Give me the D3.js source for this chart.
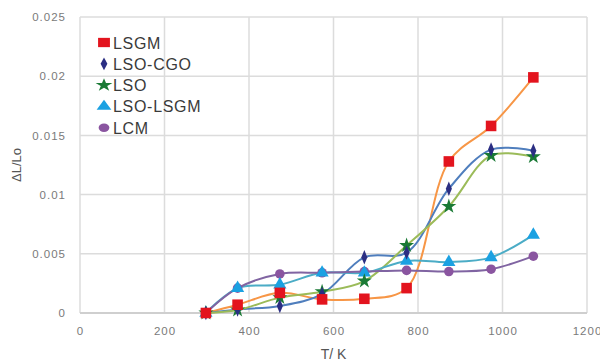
<!DOCTYPE html>
<html><head><meta charset="utf-8">
<script src="https://cdn.jsdelivr.net/npm/d3@7"></script>
<style>body{margin:0;background:#fff}svg{display:block}</style>
</head><body><svg id="c" width="600" height="362"></svg>
<script>
const temps = [298, 373, 473, 573, 673, 773, 873, 973, 1073];
const seriesNames = ["LSGM", "LSO-CGO", "LSO", "LSO-LSGM", "LCM"];
const lsgm    = [0, 0.0007, 0.0017, 0.00115, 0.0012, 0.0021, 0.0128, 0.0158, 0.0199];
const lsoCgo  = [0, 0.0003, 0.0006, 0.0016, 0.0047, 0.0051, 0.0105, 0.0138, 0.0137];
const lso     = [0, 0.00025, 0.0013, 0.0018, 0.0027, 0.0057, 0.0090, 0.0133, 0.0132];
const lsoLsgm = [0, 0.0021, 0.0024, 0.0034, 0.0034, 0.0044, 0.0043, 0.0047, 0.0066];
const lcm     = [0, 0.0021, 0.0033, 0.0034, 0.0035, 0.0036, 0.0035, 0.0037, 0.0048];
const xTicks = [0, 200, 400, 600, 800, 1000, 1200];
const yTicks = [0, 0.005, 0.01, 0.015, 0.02, 0.025];

const styles = [
  {line:"#F79646", fill:"#E3141E", sym:d3.symbolSquare, size:112, sx:1, sy:1},
  {line:"#4F7EBD", fill:"#2B2E83", sym:d3.symbolDiamond, size:50, sx:0.8, sy:1.1},
  {line:"#9BBB59", fill:"#1A7A35", sym:d3.symbolStar, size:70, sx:1, sy:1},
  {line:"#4BACC6", fill:"#1BA1E2", sym:d3.symbolTriangle, size:75, sx:1, sy:1},
  {line:"#8064A2", fill:"#8A55A0", sym:d3.symbolCircle, size:72, sx:1, sy:1}
];
const data = [lsgm, lsoCgo, lso, lsoLsgm, lcm];

const svg = d3.select("#c");
const L = 80, R = 587, T = 17, B = 313;
const x = d3.scaleLinear().domain([0,1200]).range([L,R]);
const y = d3.scaleLinear().domain([0,0.025]).range([B,T]);
const font = "Liberation Sans, Arial, sans-serif";

// gridlines
const g = svg.append("g");
g.selectAll(".vx").data(xTicks).join("line")
  .attr("x1", d=>x(d)).attr("x2", d=>x(d)).attr("y1", T).attr("y2", B)
  .attr("stroke", "#DCDCDC").attr("stroke-width", 1.5);
g.selectAll(".hy").data(yTicks).join("line")
  .attr("x1", L).attr("x2", R).attr("y1", d=>y(d)).attr("y2", d=>y(d))
  .attr("stroke", d=> d===0 ? "#CFCFCF" : "#DCDCDC").attr("stroke-width", d=> d===0?2:1.5);

// axes via d3
const xAxis = d3.axisBottom(x).tickValues(xTicks).tickSize(0).tickPadding(14).tickFormat(d3.format("d"));
const yAxis = d3.axisLeft(y).tickValues(yTicks).tickSize(0).tickPadding(14).tickFormat(d => d===0 ? "0" : d3.format("")(+d.toFixed(3)));
const xa = svg.append("g").attr("transform", `translate(0,${B})`).call(xAxis);
const ya = svg.append("g").attr("transform", `translate(${L},0)`).call(yAxis);
[xa, ya].forEach(a => {
  a.select(".domain").remove();
  a.selectAll("text").attr("fill", "#7a7a7a").style("font-family", font)
    .style("font-size", "11.5px").style("letter-spacing", "1px");
});

// lines
const line = d3.line().x((d,i)=>x(temps[i])).y(d=>y(d)).curve(d3.curveCatmullRom.alpha(0.5));
data.forEach((s, k) => {
  svg.append("path").attr("d", line(s)).attr("fill", "none")
    .attr("stroke", styles[k].line).attr("stroke-width", 2);
});
// markers (LSGM on top)
for (let k = data.length - 1; k >= 0; k--) {
  const st = styles[k];
  const sym = d3.symbol().type(st.sym).size(st.size);
  svg.append("g").selectAll("path").data(data[k]).join("path")
    .attr("d", sym)
    .attr("transform", (d,i) => `translate(${x(temps[i])},${y(d)}) scale(${st.sx},${st.sy})`)
    .attr("fill", st.fill);
}

// legend
const lg = svg.append("g");
seriesNames.forEach((n, k) => {
  const yy = 42.5 + k * 21.3;
  const st = styles[k];
  lg.append("path").attr("d", d3.symbol().type(st.sym).size(st.size * 0.95)())
    .attr("transform", `translate(104,${yy}) scale(${st.sx*1.15},${st.sy*0.9})`)
    .attr("fill", st.fill);
  lg.append("text").attr("x", 113).attr("y", yy + 6).text(n)
    .attr("fill", "#3a3a3a").style("font-family", font).style("font-size", "16px")
    .style("letter-spacing", "0.7px");
});

// axis titles
svg.append("text").attr("x", (L+R)/2).attr("y", 359).attr("text-anchor", "middle")
  .text("T/ K").attr("fill", "#555").style("font-family", font).style("font-size", "14px");
svg.append("text").attr("transform", `translate(21,${(T+B)/2}) rotate(-90)`).attr("text-anchor", "middle")
  .text("ΔL/Lo").attr("fill", "#555").style("font-family", font).style("font-size", "13px");
</script></body></html>
